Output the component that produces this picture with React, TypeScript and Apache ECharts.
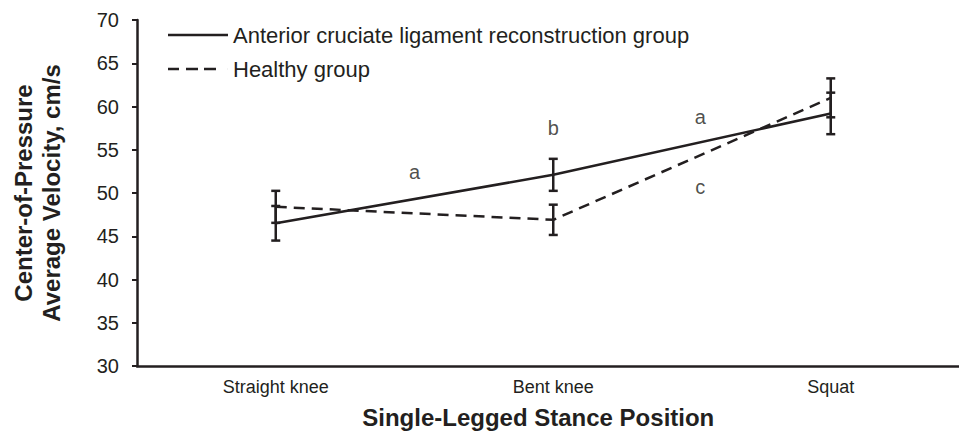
import React, { useEffect, useRef } from "react";
import * as echarts from "echarts";

const categories = ["Straight knee", "Bent knee", "Squat"];
const aclMeans = [46.5, 52.1, 59.2];
const aclSd = [2.0, 1.85, 2.4];
const healthyMeans = [48.4, 46.9, 61.0];
const healthySd = [1.85, 1.75, 2.25];
const yTicks = { min: 30, max: 70, interval: 5 };
const letterLabels = ["a", "b", "a", "c"];
const letterX = [0.5, 1.0, 1.53, 1.53];
const letterY = [52.4, 57.5, 58.8, 50.7];

const INK = "#231f20";
const FONT = "'Liberation Sans', Arial, sans-serif";
const SOLID_ICON = "path://M0 0H60V2.5H0Z";
const DASH_ICON = "path://M0 0H11V2.5H0Z M18 0H30V2.5H18Z M36 0H48V2.5H36Z M59.95 0H60V2.5H59.95Z";

export default function App() {
  const ref = useRef<HTMLDivElement>(null);
  useEffect(() => {
    if (!ref.current) return;
    const chart = echarts.init(ref.current, undefined, { renderer: "svg" });
    const errData = (means: number[], sd: number[]) =>
      means.map((m, i) => [i, m - sd[i], m + sd[i]]);
    const renderErr = (params: any, api: any) => {
      const x = api.value(0);
      const lo = api.coord([x, api.value(1)]);
      const hi = api.coord([x, api.value(2)]);
      const hw = 4.5;
      const style = { stroke: INK, lineWidth: 2.5, fill: "none" };
      return {
        type: "group",
        children: [
          { type: "line", shape: { x1: lo[0], y1: lo[1], x2: hi[0], y2: hi[1] }, style },
          { type: "line", shape: { x1: lo[0] - hw, y1: lo[1], x2: lo[0] + hw, y2: lo[1] }, style },
          { type: "line", shape: { x1: hi[0] - hw, y1: hi[1], x2: hi[0] + hw, y2: hi[1] }, style },
        ],
      };
    };
    chart.setOption({
      animation: false,
      textStyle: { fontFamily: FONT, color: INK },
      grid: { left: 137, width: 832.5, top: 20, height: 346, containLabel: false, outerBoundsMode: "none" },
      legend: {
        orient: "vertical",
        left: 163,
        top: 19,
        itemWidth: 60,
        itemHeight: 14,
        itemGap: 12,
        data: [
          { name: "Anterior cruciate ligament reconstruction group", icon: SOLID_ICON },
          { name: "Healthy group", icon: DASH_ICON },
        ],
        itemStyle: { color: INK, borderWidth: 0 },
        textStyle: { fontFamily: FONT, fontSize: 22, color: INK, lineHeight: 22 },
      },
      xAxis: [
        {
          type: "category",
          data: categories,
          boundaryGap: true,
          axisLine: { lineStyle: { color: INK, width: 2.5 } },
          axisTick: { alignWithLabel: true, length: 4, lineStyle: { color: INK, width: 2 } },
          axisLabel: { fontFamily: FONT, fontSize: 18, color: INK, margin: 12 },
          name: "Single-Legged Stance Position",
          nameLocation: "middle",
          nameGap: 39,
          nameTextStyle: { fontFamily: FONT, fontSize: 24, fontWeight: "bold", color: INK, padding: [0, 30, 0, 0] },
          splitLine: { show: false },
        },
        { type: "value", min: -0.5, max: 2.5, show: false },
      ],
      yAxis: {
        type: "value",
        min: yTicks.min,
        max: yTicks.max,
        interval: yTicks.interval,
        axisLine: { show: true, onZero: false, lineStyle: { color: INK, width: 2.5 } },
        axisTick: { show: true, length: 5, lineStyle: { color: INK, width: 2 } },
        axisLabel: { fontFamily: FONT, fontSize: 20, color: INK, margin: 18 },
        splitLine: { show: false },
        name: "Center-of-Pressure\nAverage Velocity, cm/s",
        nameLocation: "middle",
        nameGap: 72,
        nameTextStyle: { fontFamily: FONT, fontSize: 24, fontWeight: "bold", color: INK, lineHeight: 28 },
      },
      series: [
        {
          name: "Anterior cruciate ligament reconstruction group",
          type: "line",
          data: aclMeans,
          symbol: "none",
          lineStyle: { color: INK, width: 2.5, type: "solid" },
          itemStyle: { color: INK },
          z: 3,
        },
        {
          name: "Healthy group",
          type: "line",
          data: healthyMeans,
          symbol: "none",
          lineStyle: { color: INK, width: 2.5, type: [11, 7] },
          itemStyle: { color: INK },
          z: 3,
        },
        {
          type: "custom",
          data: errData(aclMeans, aclSd),
          renderItem: renderErr,
          z: 4,
        },
        {
          type: "custom",
          data: errData(healthyMeans, healthySd),
          renderItem: renderErr,
          z: 4,
        },
        {
          type: "scatter",
          xAxisIndex: 1,
          yAxisIndex: 0,
          symbolSize: 0,
          data: letterX.map((x, i) => ({ value: [x, letterY[i]], name: letterLabels[i] })),
          label: {
            show: true,
            position: "inside",
            formatter: (p: any) => p.name,
            fontFamily: FONT,
            fontSize: 20,
            color: INK,
          },
          silent: true,
        },
      ],
    });
    return () => chart.dispose();
  }, []);
  return <div ref={ref} style={{ position: "absolute", left: 0, top: 0, width: 959, height: 437 }} />;
}
